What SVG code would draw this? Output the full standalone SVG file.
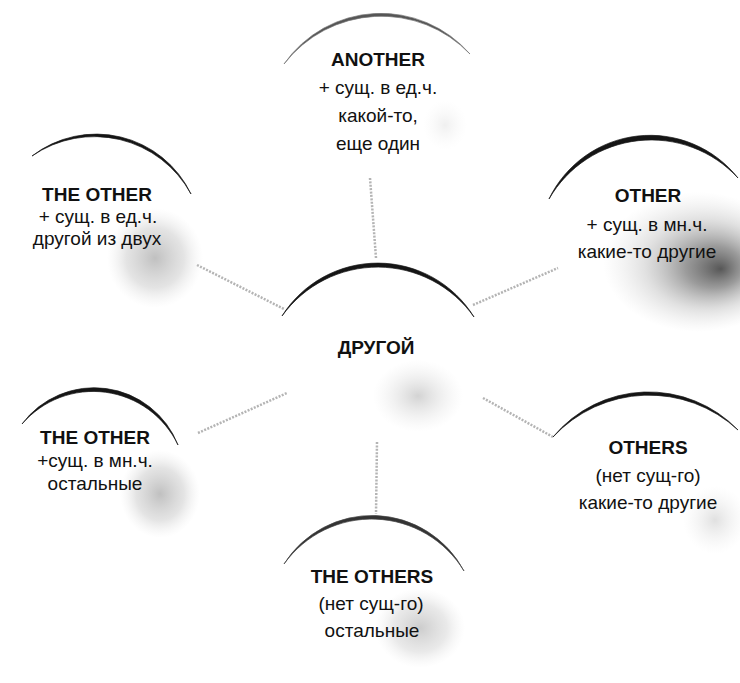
<svg xmlns="http://www.w3.org/2000/svg" width="740" height="683" viewBox="0 0 740 683">
<style>
text{font-family:"Liberation Sans",Arial,sans-serif;font-size:19px;fill:#111;text-anchor:middle}
.h{font-weight:bold}
.arc{fill:#151515;stroke:#151515;stroke-width:0.7}
.conn{fill:none;stroke:#b4b4b4;stroke-width:2.5;stroke-dasharray:2 1.4}
</style>
<defs>
<radialGradient id="gDark" fx="0.62" fy="0.55"><stop offset="0" stop-color="#444" stop-opacity="0.9"/><stop offset="0.3" stop-color="#707070" stop-opacity="0.7"/><stop offset="0.65" stop-color="#aaa" stop-opacity="0.35"/><stop offset="1" stop-color="#ccc" stop-opacity="0"/></radialGradient>
<radialGradient id="gMid"><stop offset="0" stop-color="#a5a5a5" stop-opacity="0.7"/><stop offset="0.6" stop-color="#bbb" stop-opacity="0.4"/><stop offset="1" stop-color="#ddd" stop-opacity="0"/></radialGradient>
<radialGradient id="gLight"><stop offset="0" stop-color="#bbb" stop-opacity="0.65"/><stop offset="1" stop-color="#e0e0e0" stop-opacity="0"/></radialGradient>
</defs>
<rect width="740" height="683" fill="#fff"/>
<g id="connectors">
<path class="conn" d="M370 178 L376 258"/>
<path class="conn" d="M377 442 L376 514"/>
<path class="conn" d="M197 265 L284 309"/>
<path class="conn" d="M473 305 L558 268"/>
<path class="conn" d="M198 433 L287 393"/>
<path class="conn" d="M483 398 L553 437"/>
</g>
<g id="center">
<ellipse cx="418" cy="396" rx="45" ry="36" fill="url(#gLight)"/>
<path class="arc" d="M282 316 A113 113 0 0 1 474 317 A118 118 0 0 0 282 316 Z"/>
<text class="h" x="376" y="354">ДРУГОЙ</text>
</g>
<g id="another">
<ellipse cx="445" cy="125" rx="22" ry="25" fill="url(#gLight)" opacity="0.35"/>
<path class="arc" style="fill:#555;stroke:#777" d="M284 64 A118 118 0 0 1 470 54 A123 123 0 0 0 284 64 Z"/>
<text class="h" x="378" y="66">ANOTHER</text>
<text x="378" y="94">+ сущ. в ед.ч.</text>
<text x="378" y="122">какой-то,</text>
<text x="378" y="150">еще один</text>
</g>
<g id="the-other-sing">
<ellipse cx="155" cy="258" rx="48" ry="50" fill="url(#gMid)"/>
<path class="arc" d="M32 156 A105 105 0 0 1 191 194 A110 110 0 0 0 32 156 Z"/>
<text class="h" x="97" y="201">THE OTHER</text>
<text x="98" y="223">+ сущ. в ед.ч.</text>
<text x="97" y="245">другой из двух</text>
</g>
<g id="other">
<ellipse cx="698" cy="262" rx="95" ry="70" fill="url(#gDark)"/>
<path class="arc" d="M549 199 A112 112 0 0 1 738 178 A118 118 0 0 0 549 199 Z"/>
<text class="h" x="648" y="202">OTHER</text>
<text x="647" y="231">+ сущ. в мн.ч.</text>
<text x="647" y="258">какие-то другие</text>
</g>
<g id="the-other-pl">
<ellipse cx="160" cy="494" rx="40" ry="44" fill="url(#gMid)"/>
<path class="arc" d="M22 424 A90 90 0 0 1 178 445 A94 94 0 0 0 22 424 Z"/>
<text class="h" x="95" y="444">THE OTHER</text>
<text x="95" y="467">+сущ. в мн.ч.</text>
<text x="95" y="490">остальные</text>
</g>
<g id="others">
<ellipse cx="715" cy="520" rx="32" ry="34" fill="url(#gLight)" opacity="0.7"/>
<path class="arc" d="M553 437 A124 124 0 0 1 738 430 A131 131 0 0 0 553 437 Z"/>
<text class="h" x="648" y="454">OTHERS</text>
<text x="648" y="482">(нет сущ-го)</text>
<text x="648" y="509">какие-то другие</text>
</g>
<g id="the-others">
<ellipse cx="420" cy="628" rx="45" ry="40" fill="url(#gMid)" opacity="0.8"/>
<path class="arc" style="fill:#333;stroke:#444" d="M284 564 A104 104 0 0 1 464 571 A108 108 0 0 0 284 564 Z"/>
<text class="h" x="372" y="583">THE OTHERS</text>
<text x="371" y="610">(нет сущ-го)</text>
<text x="372" y="637">остальные</text>
</g>
</svg>
